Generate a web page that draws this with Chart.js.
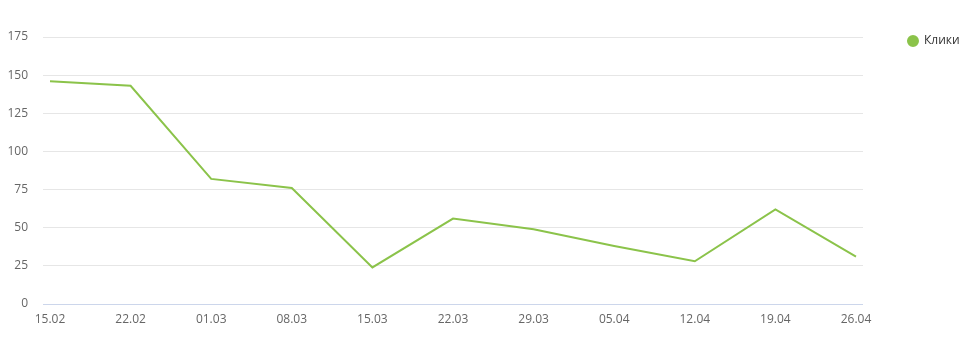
<!DOCTYPE html>
<html>
<head>
<meta charset="utf-8">
<script src="https://cdn.jsdelivr.net/npm/chart.js@4/dist/chart.umd.min.js"></script>
<style>
html,body{margin:0;padding:0;background:#fff;}
#wrap{position:relative;width:974px;height:343px;}
</style>
</head>
<body>
<div id="wrap"><canvas id="c" width="974" height="343"></canvas></div>
<script>
const categories = ["15.02","22.02","01.03","08.03","15.03","22.03","29.03","05.04","12.04","19.04","26.04"];
const seriesName = "Клики";
const clicks = [146, 143, 82, 76, 24, 56, 49, 38, 28, 62, 31];
const yTicks = [0, 25, 50, 75, 100, 125, 150, 175];

const lineColor = '#8bc34a';
const FONT = "'Open Sans', 'Segoe UI', sans-serif";
const edge = 0.0868;

const chart = new Chart(document.getElementById('c'), {
  type: 'line',
  data: {
    datasets: [{
      label: seriesName,
      data: clicks.map((v, i) => ({x: i, y: v})),
      borderColor: lineColor,
      backgroundColor: lineColor,
      borderWidth: 2,
      pointRadius: 0,
      pointHoverRadius: 0,
      tension: 0,
      fill: false
    }]
  },
  options: {
    responsive: false,
    animation: false,
    devicePixelRatio: 1,
    layout: {padding: {top: 30, left: 0, right: 4.36, bottom: 0}},
    plugins: {
      tooltip: {enabled: false},
      legend: {
        position: 'right',
        align: 'start',
        labels: {
          usePointStyle: true,
          pointStyle: 'circle',
          pointStyleWidth: 10,
          boxHeight: 7,
          padding: 5,
          color: '#333333',
          font: {family: FONT, size: 12}
        }
      }
    },
    scales: {
      x: {
        type: 'linear',
        min: -edge,
        max: categories.length - 1 + edge,
        afterBuildTicks: (s) => { s.ticks = categories.map((_, i) => ({value: i})); },
        afterFit: (s) => { s.height = 39; },
        ticks: {
          callback: (v) => categories[v],
          color: '#666666',
          font: {family: FONT, size: 12},
          padding: 8,
          maxRotation: 0,
          autoSkip: false
        },
        grid: {display: false, drawTicks: false},
        border: {display: true, color: '#ccd6eb', width: 1}
      },
      y: {
        min: 0,
        max: 175,
        afterBuildTicks: (s) => { s.ticks = yTicks.map(v => ({value: v})); },
        afterFit: (s) => { s.width = 43; },
        ticks: {
          color: '#666666',
          font: {family: FONT, size: 12},
          padding: 15
        },
        grid: {
          color: (ctx) => ctx.tick && ctx.tick.value === 0 ? 'rgba(0,0,0,0)' : '#e6e6e6',
          drawTicks: false,
          lineWidth: 1
        },
        border: {display: false}
      },
      gap: {
        type: 'linear',
        position: 'right',
        display: true,
        afterFit: (s) => { s.width = 40; },
        ticks: {display: false},
        grid: {display: false, drawTicks: false},
        border: {display: false}
      },
      gapTop: {
        type: 'linear',
        position: 'top',
        display: true,
        afterFit: (s) => { s.height = 7; },
        ticks: {display: false},
        grid: {display: false, drawTicks: false},
        border: {display: false}
      }
    }
  }
});
</script>
</body>
</html>
